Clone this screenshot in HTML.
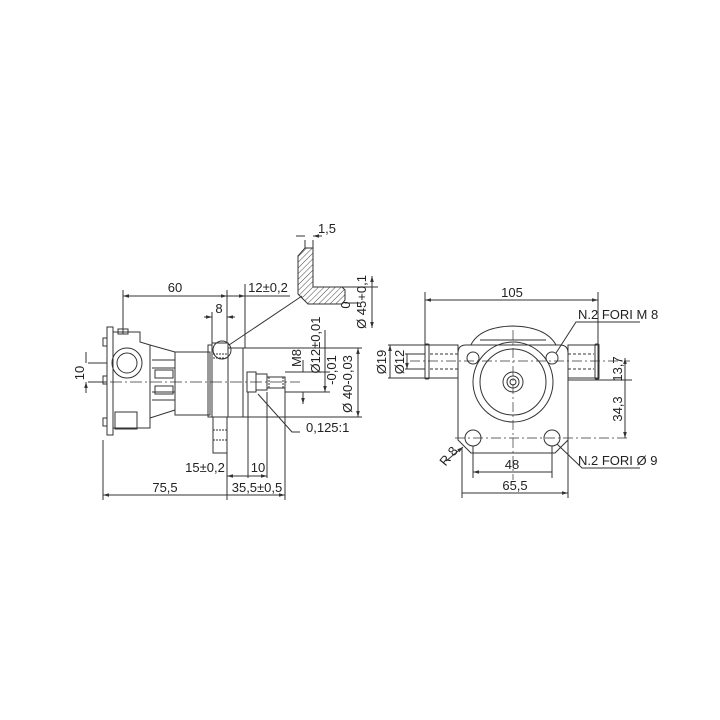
<!DOCTYPE html>
<html><head><style>body{margin:0;background:#fff}svg{display:block}text{font-family:"Liberation Sans",sans-serif;font-size:13px;fill:#222}</style></head>
<body>
<svg width="720" height="720" viewBox="0 0 720 720" xmlns="http://www.w3.org/2000/svg">
<defs>
<pattern id="h" width="4" height="4" patternUnits="userSpaceOnUse" patternTransform="rotate(45)"><line x1="0" y1="0" x2="0" y2="4" stroke="#444" stroke-width="1"/></pattern>
<marker id="a" viewBox="0 0 10 10" refX="10" refY="5" markerWidth="6" markerHeight="6" orient="auto-start-reverse"><path d="M0,2 L10,5 L0,8z" fill="#333"/></marker>
</defs>
<g stroke="#333" stroke-width="1" fill="none">
<rect x="107" y="327" width="6" height="108" fill="#fff"/>
<rect x="103" y="338" width="4" height="8"/><rect x="103" y="376" width="4" height="8"/><rect x="103" y="418" width="4" height="8"/>
<path d="M113,332 H140 V342 L150,345 V428 H113 Z"/>
<rect x="118" y="329" width="10" height="5"/>
<circle cx="127" cy="363" r="15"/><circle cx="127" cy="363" r="10"/>
<rect x="115" y="412" width="22" height="17"/>
<path d="M150,345 L175,352 V410 L150,418"/>
<path d="M152,360 H175 M152,368 H175 M152,392 H175 M152,400 H175"/>
<rect x="155" y="370" width="18" height="8"/><rect x="155" y="386" width="18" height="8"/>
<rect x="175" y="352" width="35" height="63"/>
<rect x="208" y="345" width="4" height="72"/>
<rect x="212" y="343" width="16" height="74"/>
<rect x="213" y="417" width="14" height="36"/>
<path d="M213,430 H227 M213,440 H227" stroke-dasharray="2,1"/>
<path d="M213,354 H227 M213,358 H227" stroke-dasharray="2,1"/>
<rect x="228" y="348" width="15" height="69"/>
<rect x="247" y="372" width="9" height="20"/>
<path d="M256,374 H267 V390 H256"/>
<rect x="267" y="377" width="18" height="11"/>
<path d="M269,377 V388 M283,377 V388" stroke-dasharray="2,1"/>
<path d="M90,382 H300" stroke-dasharray="12,3,2,3" stroke-width="0.7"/>
<circle cx="222" cy="350" r="9"/>
<path d="M229,345 L302,296"/>
<path d="M298,256 L305,248 H313 V287 H342 L345,290 V300 L342,304 H308 L298,294 Z" fill="url(#h)"/>
<path d="M305,240 V248 M313,240 V287 M296,236 H305 M322,236 H313" marker-end="url(#a)"/>
<path d="M313,236 H322"/>
<path d="M313,287 H378 M345,303 H360"/>
<path d="M123,334 V290 M227,343 V290 M245,348 V284 M212,343 V312"/>
<path d="M123,296 H227" marker-start="url(#a)" marker-end="url(#a)"/>
<path d="M245,296 H290 M227,296 H245" marker-end="url(#a)"/>
<path d="M204,317 H212" marker-end="url(#a)"/><path d="M235,317 H227" marker-end="url(#a)"/>
<path d="M372,276 V328" marker-start="url(#a)" marker-end="url(#a)"/>
<path d="M285,372 H330 M285,392 H330 M243,348 H362 M243,417 H362"/>
<path d="M325,330 V392" marker-end="url(#a)"/>
<path d="M303,360 V372 M303,392 V404" marker-end="url(#a)"/>
<path d="M358,348 V417" marker-start="url(#a)" marker-end="url(#a)"/>
<path d="M258,394 L292,432 H300"/>
<path d="M88,363 H107 M88,382 H107"/><path d="M86,352 V363 M86,393 V382" marker-end="url(#a)"/>
<path d="M103,440 V500 M227,453 V500 M248,392 V478 M267,392 V478 M285,388 V500"/>
<path d="M103,495 H227 M227,495 H285" marker-start="url(#a)" marker-end="url(#a)"/>
<path d="M227,476 H248 M248,476 H267" marker-start="url(#a)" marker-end="url(#a)"/>
<path d="M470,347 Q478,327 513,326 Q548,327 557,347"/>
<path d="M480,340 H546"/>
<path d="M466,345 H560 Q568,345 568,353 V440 L555,453 H471 L458,440 V353 Q458,345 466,345 Z" fill="#fff"/>
<rect x="425" y="345" width="33" height="33" fill="#fff"/><rect x="425" y="344" width="4" height="35" rx="1"/>
<rect x="568" y="345" width="30" height="33" fill="#fff"/><rect x="595" y="344" width="4" height="35" rx="1"/>
<path d="M430,354 H458 M430,369 H458 M568,354 H594 M568,369 H594" stroke-dasharray="3,2"/>
<circle cx="513" cy="382" r="40"/><circle cx="513" cy="382" r="33"/>
<circle cx="513" cy="382" r="10"/><circle cx="513" cy="382" r="6"/><circle cx="513" cy="382" r="3"/>
<circle cx="473" cy="358" r="6"/><circle cx="552" cy="358" r="6"/>
<circle cx="473" cy="438" r="8"/><circle cx="552" cy="438" r="8"/>
<path d="M410,361 H630 M513,330 V480 M455,438 H628" stroke-dasharray="10,3,2,3" stroke-width="0.7"/>
<path d="M425,345 V292 M598,345 V292"/>
<path d="M425,300 H598" marker-start="url(#a)" marker-end="url(#a)"/>
<path d="M556,353 L576,322 H640"/>
<path d="M557,444 L582,468 H640"/>
<path d="M568,380 H632"/>
<path d="M625,358 V380 M625,380 V438" marker-start="url(#a)" marker-end="url(#a)"/>
<path d="M473,446 V478 M552,446 V478 M462,448 V498 M568,440 V498"/>
<path d="M473,472 H552 M462,493 H568" marker-start="url(#a)" marker-end="url(#a)"/>
<path d="M388,345 H425 M388,378 H425 M405,354 H425 M405,369 H425"/>
<path d="M390,345 V378 M407,354 V369" marker-start="url(#a)" marker-end="url(#a)"/>
<path d="M446,461 L463,447" marker-end="url(#a)"/>
</g>
<text x="175" y="292" text-anchor="middle">60</text>
<text x="268" y="292" text-anchor="middle">12±0,2</text>
<text x="219" y="313" text-anchor="middle">8</text>
<text x="327" y="233" text-anchor="middle">1,5</text>
<text transform="translate(350,305) rotate(-90)" text-anchor="middle">0</text>
<text transform="translate(366,302) rotate(-90)" text-anchor="middle">Ø 45+0,1</text>
<text transform="translate(320,345) rotate(-90)" text-anchor="middle">Ø12±0,01</text>
<text transform="translate(301,358) rotate(-90)" text-anchor="middle">M8</text>
<text transform="translate(336,370) rotate(-90)" text-anchor="middle">-0,01</text>
<text transform="translate(352,384) rotate(-90)" text-anchor="middle">Ø 40-0,03</text>
<text x="306" y="432">0,125:1</text>
<text transform="translate(84,373) rotate(-90)" text-anchor="middle">10</text>
<text x="205" y="472" text-anchor="middle">15±0,2</text>
<text x="258" y="472" text-anchor="middle">10</text>
<text x="165" y="492" text-anchor="middle">75,5</text>
<text x="257" y="492" text-anchor="middle">35,5±0,5</text>
<text x="512" y="297" text-anchor="middle">105</text>
<text x="578" y="319">N.2 FORI M 8</text>
<text x="578" y="465">N.2 FORI Ø 9</text>
<text x="512" y="469" text-anchor="middle">48</text>
<text x="515" y="490" text-anchor="middle">65,5</text>
<text transform="translate(386,362) rotate(-90)" text-anchor="middle">Ø19</text>
<text transform="translate(404,362) rotate(-90)" text-anchor="middle">Ø12</text>
<text transform="translate(622,369) rotate(-90)" text-anchor="middle">13,7</text>
<text transform="translate(622,409) rotate(-90)" text-anchor="middle">34,3</text>
<text transform="translate(452,459) rotate(-50)" text-anchor="middle">R 8</text>
</svg>
</body></html>
